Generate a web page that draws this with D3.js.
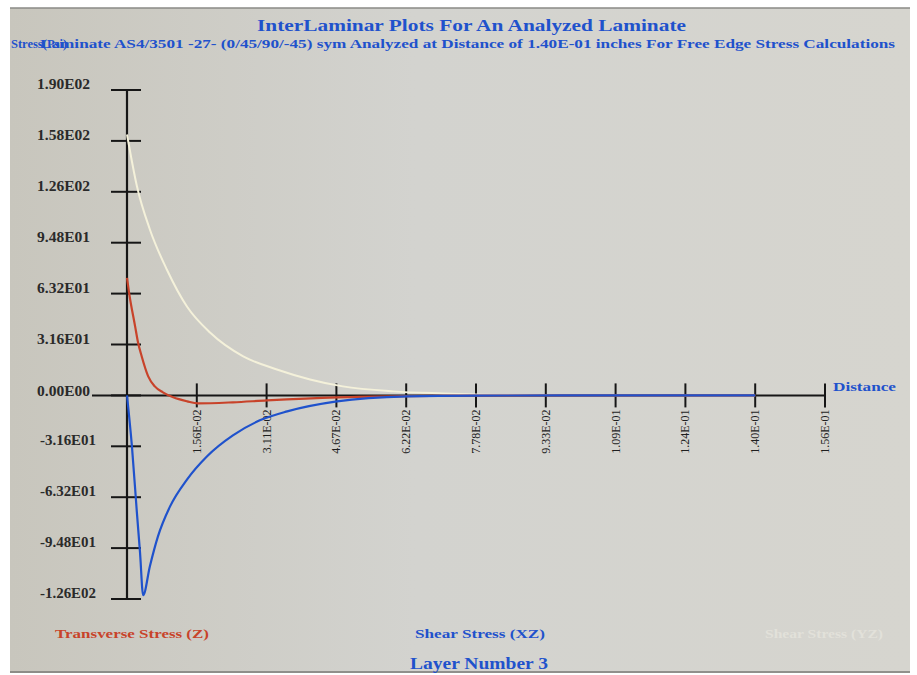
<!DOCTYPE html>
<html>
<head>
<meta charset="utf-8">
<script src="https://cdn.jsdelivr.net/npm/d3@7"></script>
<style>
  html, body { margin: 0; padding: 0; background: #ffffff; }
  svg { display: block; }
</style>
</head>
<body>
<div id="chart"></div>
<script>
// Free edge interlaminar stresses, layer 3

const xTicks = [0.015556, 0.031111, 0.046667, 0.062222, 0.077778, 0.093333, 0.108889, 0.124444, 0.14, 0.155556];
const xTickLabels = ['1.56E-02', '3.11E-02', '4.67E-02', '6.22E-02', '7.78E-02', '9.33E-02', '1.09E-01', '1.24E-01', '1.40E-01', '1.56E-01'];
const yTicks = [189.6, 158, 126.4, 94.8, 63.2, 31.6, 0, -31.6, -63.2, -94.8, -126.4];
const yTickLabels = ['1.90E02', '1.58E02', '1.26E02', '9.48E01', '6.32E01', '3.16E01', '0.00E00', '-3.16E01', '-6.32E01', '-9.48E01', '-1.26E02'];

// shear stress (YZ) - pale curve
const yzDist   = [0, 0.0022, 0.0051, 0.0089, 0.0134, 0.0185, 0.0259, 0.0334, 0.0408, 0.0481, 0.0593, 0.0704, 0.0776, 0.09, 0.11, 0.14];
const yzStress = [162, 130, 103, 78, 55, 39, 24.2, 16.1, 9.9, 5.6, 2.5, 1.2, 0.6, 0.2, 0.05, 0];

// transverse stress (Z) - red curve
const zDist   = [0, 0.00045, 0.0018, 0.00245, 0.0033, 0.0047, 0.0062, 0.008, 0.0103, 0.0134, 0.0158, 0.0236, 0.0312, 0.047, 0.0624, 0.0776, 0.1, 0.14];
const zStress = [73, 64, 43, 33, 24, 12, 5.6, 1.9, -1.2, -3.7, -5.0, -4.3, -3.1, -1.2, -0.4, -0.1, 0, 0];

// shear stress (XZ) - blue curve
const xzDist   = [0, 0.0011, 0.0022, 0.0029, 0.0036, 0.0051, 0.0069, 0.0096, 0.0134, 0.0178, 0.0236, 0.0296, 0.0357, 0.0468, 0.0624, 0.0776, 0.1, 0.14];
const xzStress = [0, -31.7, -72.6, -97.5, -124, -106, -87.5, -68.9, -52.1, -37.9, -24.8, -15.5, -9.9, -3.7, -0.6, -0.1, 0, 0];

const W = 917, H = 675;
const BLUE = '#1f52cc', RED = '#c8432a', CREAM = '#f4f1da', INK = '#161616';
const FONT = 'Liberation Serif, serif';

const svg = d3.select('#chart').append('svg')
    .attr('width', W)
    .attr('height', H);

const defs = svg.append('defs');
const grad = defs.append('linearGradient')
    .attr('id', 'bg')
    .attr('x1', 0).attr('y1', 0).attr('x2', 1).attr('y2', 0);
grad.append('stop').attr('offset', 0).attr('stop-color', '#c8c6bd');
grad.append('stop').attr('offset', 0.45).attr('stop-color', '#d3d3cf');
grad.append('stop').attr('offset', 1).attr('stop-color', '#d6d5cf');

// the photographed screen area
svg.append('rect')
    .attr('x', 10).attr('y', 8)
    .attr('width', 900).attr('height', 665)
    .attr('fill', 'url(#bg)');
svg.append('line')
    .attr('x1', 10).attr('x2', 910).attr('y1', 8).attr('y2', 8)
    .attr('stroke', '#8a8a86').attr('stroke-width', 1.5);
svg.append('line')
    .attr('x1', 10).attr('x2', 910).attr('y1', 672).attr('y2', 672)
    .attr('stroke', '#7a7a76').attr('stroke-width', 1.5);

const x = d3.scaleLinear().domain([0, 0.155556]).range([127, 825]);
const y = d3.scaleLinear().domain([-126.4, 189.6]).range([599, 90]);

const g = svg.append('g');

// x axis line (runs left into the zero label)
g.append('line')
    .attr('x1', 92).attr('x2', x(0.155556))
    .attr('y1', y(0)).attr('y2', y(0))
    .attr('stroke', INK).attr('stroke-width', 2);

// y axis line
g.append('line')
    .attr('x1', x(0)).attr('x2', x(0))
    .attr('y1', y(189.6)).attr('y2', y(-126.4))
    .attr('stroke', INK).attr('stroke-width', 2.2);

// y ticks and labels
g.selectAll('.ytick')
    .data(yTicks)
    .join('line')
    .attr('class', 'ytick')
    .attr('x1', x(0) - 16).attr('x2', x(0) + 14)
    .attr('y1', d => y(d)).attr('y2', d => y(d))
    .attr('stroke', INK).attr('stroke-width', 2);

g.selectAll('.ylab')
    .data(yTicks)
    .join('text')
    .attr('class', 'ylab')
    .attr('x', (d, i) => yTickLabels[i].startsWith('-') ? 40 : 37)
    .attr('y', d => y(d) + (d === 0 ? 1 : -1))
    .attr('font-family', FONT)
    .attr('font-weight', 'bold')
    .attr('font-size', 14)
    .attr('textLength', (d, i) => yTickLabels[i].startsWith('-') ? 56 : 53)
    .attr('lengthAdjust', 'spacingAndGlyphs')
    .attr('fill', '#2a2a2a')
    .text((d, i) => yTickLabels[i]);

// x ticks and labels
g.selectAll('.xtick')
    .data(xTicks)
    .join('line')
    .attr('class', 'xtick')
    .attr('x1', d => x(d)).attr('x2', d => x(d))
    .attr('y1', y(0) - 12).attr('y2', y(0) + 12)
    .attr('stroke', INK).attr('stroke-width', 2);

g.selectAll('.xlab')
    .data(xTicks)
    .join('text')
    .attr('class', 'xlab')
    .attr('transform', d => `translate(${x(d) + 4},${y(0) + 14}) rotate(-90)`)
    .attr('text-anchor', 'end')
    .attr('font-family', FONT)
    .attr('font-size', 12)
    .attr('fill', '#1e1e1e')
    .text((d, i) => xTickLabels[i]);

g.append('text')
    .attr('x', 833).attr('y', 391)
    .attr('font-family', FONT)
    .attr('font-weight', 'bold')
    .attr('font-size', 13)
    .attr('textLength', 63)
    .attr('lengthAdjust', 'spacingAndGlyphs')
    .attr('fill', BLUE)
    .text('Distance');

// curves
const line = d3.line()
    .x(d => x(d[0]))
    .y(d => y(d[1]))
    .curve(d3.curveMonotoneX);

const series = [
    { dist: yzDist, stress: yzStress, color: CREAM, width: 2 },
    { dist: zDist, stress: zStress, color: RED, width: 2.2 },
    { dist: xzDist, stress: xzStress, color: BLUE, width: 2.2 },
];

g.selectAll('.curve')
    .data(series)
    .join('path')
    .attr('class', 'curve')
    .attr('d', s => line(s.dist.map((v, i) => [v, s.stress[i]])))
    .attr('fill', 'none')
    .attr('stroke', s => s.color)
    .attr('stroke-width', s => s.width);

// titles
svg.append('text')
    .attr('x', 257).attr('y', 31)
    .attr('font-family', FONT)
    .attr('font-weight', 'bold')
    .attr('font-size', 17)
    .attr('textLength', 429)
    .attr('lengthAdjust', 'spacingAndGlyphs')
    .attr('fill', BLUE)
    .text('InterLaminar Plots For An Analyzed Laminate');

// the y label and the subtitle overlap on the original screen as well
svg.append('text')
    .attr('x', 11).attr('y', 48)
    .attr('font-family', FONT)
    .attr('font-weight', 'bold')
    .attr('font-size', 12.5)
    .attr('fill', BLUE)
    .text('Stress(Psi)');

svg.append('text')
    .attr('x', 40).attr('y', 48)
    .attr('font-family', FONT)
    .attr('font-weight', 'bold')
    .attr('font-size', 12.5)
    .attr('textLength', 855)
    .attr('lengthAdjust', 'spacingAndGlyphs')
    .attr('fill', BLUE)
    .text('Laminate AS4/3501 -27- (0/45/90/-45) sym Analyzed at Distance of 1.40E-01 inches For Free Edge Stress Calculations');

// legend labels
const legend = [
    { label: 'Transverse Stress (Z)', x: 55, len: 154, color: RED },
    { label: 'Shear Stress (XZ)', x: 415, len: 130, color: BLUE },
    { label: 'Shear Stress (YZ)', x: 765, len: 118, color: '#e2e1da' },
];
svg.selectAll('.legend')
    .data(legend)
    .join('text')
    .attr('class', 'legend')
    .attr('x', d => d.x).attr('y', 638)
    .attr('font-family', FONT)
    .attr('font-weight', 'bold')
    .attr('font-size', 13.5)
    .attr('textLength', d => d.len)
    .attr('lengthAdjust', 'spacingAndGlyphs')
    .attr('fill', d => d.color)
    .text(d => d.label);

svg.append('text')
    .attr('x', 410).attr('y', 669)
    .attr('font-family', FONT)
    .attr('font-weight', 'bold')
    .attr('font-size', 16)
    .attr('textLength', 138)
    .attr('lengthAdjust', 'spacingAndGlyphs')
    .attr('fill', BLUE)
    .text('Layer Number 3');
</script>
</body>
</html>
